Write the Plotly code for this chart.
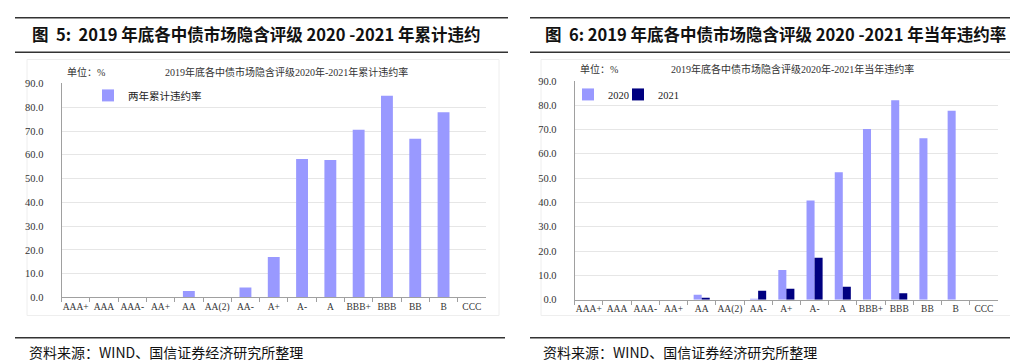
import plotly.graph_objects as go

# ---- data ----
ratings = ["AAA+", "AAA", "AAA-", "AA+", "AA", "AA(2)", "AA-", "A+", "A-", "A",
           "BBB+", "BBB", "BB", "B", "CCC"]
cum_default = [0, 0, 0, 0, 2.7, 0, 4.1, 17.0, 58.2, 57.8, 70.5, 84.8, 66.7, 77.9, 0]
rate_2020 = [0, 0, 0, 0, 2.0, 0, 0.3, 12.2, 40.8, 52.4, 70.2, 82.0, 66.4, 77.7, 0]
rate_2021 = [0, 0, 0, 0, 0.8, 0, 3.7, 4.5, 17.2, 5.3, 0, 2.7, 0, 0, 0]
yticks = [0, 10, 20, 30, 40, 50, 60, 70, 80, 90]

title_left = "图  5:  2019 年底各中债市场隐含评级 2020 -2021 年累计违约"
title_right = "图  6: 2019 年底各中债市场隐含评级 2020 -2021 年当年违约率"
sub_left = "2019年底各中债市场隐含评级2020年-2021年累计违约率"
sub_right = "2019年底各中债市场隐含评级2020年-2021年当年违约率"
unit = "单位：%"
source = "资料来源：WIND、国信证券经济研究所整理"

W, H = 1018, 361
LIGHT = "#9999FF"
NAVY = "#000080"
SERIF = "Liberation Serif, Noto Sans CJK SC, serif"
SANS = "Noto Sans CJK SC, sans-serif"


def px(x):
    return x / W


def py(y):
    return 1 - y / H


fig = go.Figure()
fig.add_trace(go.Bar(x=ratings, y=cum_default, name="两年累计违约率", width=0.42,
                     marker=dict(color=LIGHT, line=dict(width=0)), showlegend=True,
                     xaxis="x", yaxis="y", legend="legend"))
fig.add_trace(go.Bar(x=ratings, y=rate_2020, name="2020", showlegend=True,
                     marker=dict(color=LIGHT, line=dict(width=0)),
                     xaxis="x2", yaxis="y2", legend="legend2"))
fig.add_trace(go.Bar(x=ratings, y=rate_2021, name="2021", showlegend=True,
                     marker=dict(color=NAVY, line=dict(width=0)),
                     xaxis="x2", yaxis="y2", legend="legend3"))

xcommon = dict(type="category", showgrid=False, showline=True, linecolor="#A0A0A0",
               linewidth=1, ticks="outside", tickson="boundaries", ticklen=4,
               tickcolor="#A0A0A0", tickangle=0,
               tickfont=dict(family=SERIF, size=9.5, color="#333333"),
               fixedrange=True)
ycommon = dict(range=[0, 90], tickvals=yticks, tickformat=".1f", showgrid=True,
               gridcolor="#E6E6E6", gridwidth=1, showline=True, linecolor="#A0A0A0",
               linewidth=1, ticks="", tickfont=dict(family=SERIF, size=10.5, color="#333333"),
               ticklabelstandoff=15, zeroline=False, fixedrange=True)

legfont = dict(family=SERIF, size=10.5, color="#222222")
fig.update_layout(
    width=W, height=H, margin=dict(l=0, r=0, t=0, b=0),
    paper_bgcolor="white", plot_bgcolor="white", showlegend=True,
    barmode="group", bargap=0.43, bargroupgap=0,
    xaxis=dict(domain=[px(53.5), px(478)], anchor="y", **xcommon),
    yaxis=dict(domain=[py(293.3), py(72.7)], anchor="x", **ycommon),
    xaxis2=dict(domain=[px(566.7), px(990)], anchor="y2", **xcommon),
    yaxis2=dict(domain=[py(295.7), py(70)], anchor="x2", **ycommon),
    legend=dict(x=px(80), y=py(85), xanchor="left", yanchor="middle",
                bgcolor="rgba(0,0,0,0)", itemwidth=30, font=legfont),
    legend2=dict(x=px(560), y=py(84), xanchor="left", yanchor="middle",
                 bgcolor="rgba(0,0,0,0)", itemwidth=30, font=legfont),
    legend3=dict(x=px(610), y=py(84), xanchor="left", yanchor="middle",
                 bgcolor="rgba(0,0,0,0)", itemwidth=30, font=legfont),
)

shapes = []
# rules
for (x0, x1) in [(7, 500), (522, 1011)]:
    for y in [5, 40.5]:
        shapes.append(dict(type="line", xref="paper", yref="paper",
                           x0=px(x0), x1=px(x1), y0=py(y), y1=py(y),
                           line=dict(color="#333333", width=1.5)))
for (x0, x1) in [(7, 497), (522, 1012)]:
    shapes.append(dict(type="line", xref="paper", yref="paper",
                       x0=px(x0), x1=px(x1), y0=py(335), y1=py(335),
                       line=dict(color="#333333", width=1.5)))
# faint chart boxes
for (x0, x1) in [(19, 491), (533, 1005)]:
    shapes.append(dict(type="rect", xref="paper", yref="paper",
                       x0=px(x0), x1=px(x1), y0=py(312), y1=py(48),
                       line=dict(color="#EEEEEE", width=1), layer="below"))
fig.update_layout(shapes=shapes)

ann = []
ann.append(dict(text="<b>" + title_left + "</b>", x=px(22), y=py(22), xref="paper", yref="paper",
                xanchor="left", yanchor="middle", showarrow=False,
                font=dict(family=SANS, size=16.5, color="#111111")))
ann.append(dict(text="<b>" + title_right + "</b>", x=px(535), y=py(22), xref="paper", yref="paper",
                xanchor="left", yanchor="middle", showarrow=False,
                font=dict(family=SANS, size=16.5, color="#111111")))
ann.append(dict(text=sub_left, x=px(278), y=py(61), xref="paper", yref="paper",
                xanchor="center", yanchor="middle", showarrow=False,
                font=dict(family=SERIF, size=10, color="#333333")))
ann.append(dict(text=sub_right, x=px(784), y=py(57.5), xref="paper", yref="paper",
                xanchor="center", yanchor="middle", showarrow=False,
                font=dict(family=SERIF, size=10, color="#333333")))
ann.append(dict(text=unit, x=px(57), y=py(61), xref="paper", yref="paper",
                xanchor="left", yanchor="middle", showarrow=False,
                font=dict(family=SERIF, size=10, color="#333333")))
ann.append(dict(text=unit, x=px(570), y=py(57.5), xref="paper", yref="paper",
                xanchor="left", yanchor="middle", showarrow=False,
                font=dict(family=SERIF, size=10, color="#333333")))
for x0 in [19, 533]:
    ann.append(dict(text=source, x=px(x0), y=py(350), xref="paper", yref="paper",
                    xanchor="left", yanchor="middle", showarrow=False,
                    font=dict(family=SANS, size=14, color="#111111")))
fig.update_layout(annotations=ann)

fig.write_html("out.html")
